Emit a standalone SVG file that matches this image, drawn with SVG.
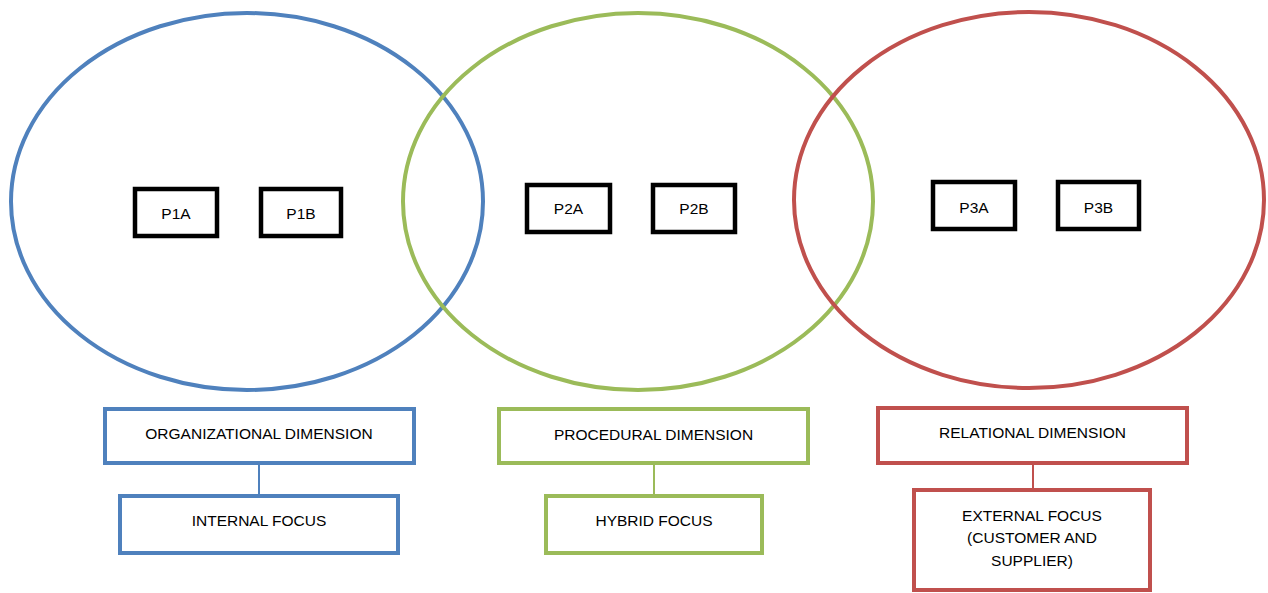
<svg xmlns="http://www.w3.org/2000/svg" width="1268" height="593" viewBox="0 0 1268 593">
<style>
text{font-family:"Liberation Sans",Arial,sans-serif;font-size:15.5px;fill:#000;text-anchor:middle}
.ell{fill:none;stroke-width:4}
.pb{fill:#fff;stroke:#000;stroke-width:4.5}
.blue{stroke:#4F81BD}
.green{stroke:#9BBB59}
.red{stroke:#C0504D}
.db{fill:#fff;stroke-width:4}
.conn line{stroke-width:2}
</style>
<rect width="1268" height="593" fill="#fff"/>
<g id="circles">
<ellipse id="c1" class="ell blue" cx="247" cy="201.5" rx="236" ry="188.5"/>
<ellipse id="c2" class="ell green" cx="638" cy="201.5" rx="235" ry="188.5"/>
<ellipse id="c3" class="ell red" cx="1029" cy="200" rx="235" ry="188"/>
</g>
<g id="p1a"><rect class="pb" x="135" y="189" width="82" height="47"/><text x="176" y="219">P1A</text></g>
<g id="p1b"><rect class="pb" x="261" y="189" width="80" height="47"/><text x="301" y="219">P1B</text></g>
<g id="p2a"><rect class="pb" x="527" y="185" width="83" height="47"/><text x="568.5" y="214">P2A</text></g>
<g id="p2b"><rect class="pb" x="653" y="185" width="82" height="47"/><text x="694" y="214">P2B</text></g>
<g id="p3a"><rect class="pb" x="933" y="182" width="82" height="47"/><text x="974" y="213">P3A</text></g>
<g id="p3b"><rect class="pb" x="1058" y="182" width="81" height="47"/><text x="1098.5" y="213">P3B</text></g>
<g class="conn" id="connectors">
<line class="blue" x1="259" y1="463" x2="259" y2="496"/>
<line class="green" x1="654" y1="463" x2="654" y2="496"/>
<line class="red" x1="1033" y1="463" x2="1033" y2="490"/>
</g>
<g id="org"><rect class="db blue" x="105" y="409" width="309" height="54"/><text x="259" y="439">ORGANIZATIONAL DIMENSION</text></g>
<g id="internal"><rect class="db blue" x="120" y="496" width="278" height="57"/><text x="259" y="526">INTERNAL FOCUS</text></g>
<g id="proc"><rect class="db green" x="499" y="409" width="309" height="54"/><text x="653.5" y="440">PROCEDURAL DIMENSION</text></g>
<g id="hybrid"><rect class="db green" x="546" y="496" width="216" height="57"/><text x="654" y="526">HYBRID FOCUS</text></g>
<g id="rel"><rect class="db red" x="878" y="408" width="309" height="55"/><text x="1032.5" y="438">RELATIONAL DIMENSION</text></g>
<g id="external"><rect class="db red" x="914" y="490" width="236" height="100"/><text x="1032" y="521">EXTERNAL FOCUS</text><text x="1032" y="543">(CUSTOMER AND</text><text x="1032" y="566">SUPPLIER)</text></g>
</svg>
